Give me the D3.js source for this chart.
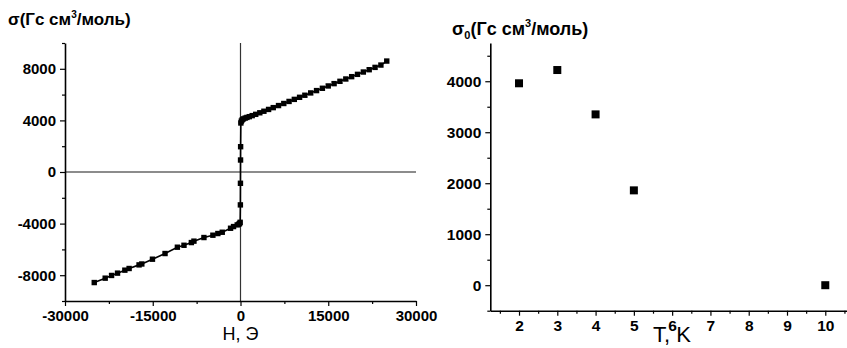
<!DOCTYPE html>
<html><head><meta charset="utf-8">
<script src="https://cdn.jsdelivr.net/npm/d3@7"></script>
<style>
body{margin:0;background:#fff;}
svg{display:block;font-family:"Liberation Sans",Arial,sans-serif;}
.tick text{font-weight:bold;fill:#000;}
</style></head><body>
<svg id="c" width="847" height="348"></svg>
<script>
// Left panel: magnetization curve
const fieldH = [-25000,-23130,-22040,-21020,-19770,-19040,-17340,-16870,-15050,-12900,-10790,-9660,-8400,-7960,-6250,-4720,-3870,-3120,-1700,-1190,-560,-300,-150,-60,-20,-8,8,20,60,150,300,500,800,1100,1500,2000,2600,3300,4000,4800,5600,6500,7400,8300,9200,10100,11000,12000,13000,14000,15000,16000,17000,18000,19000,20000,21000,22000,23000,24000,25000];
const sigma  = [-8570,-8230,-8020,-7840,-7610,-7480,-7200,-7130,-6760,-6320,-5830,-5680,-5470,-5360,-5080,-4900,-4770,-4670,-4360,-4230,-4100,-4050,-3990,-3900,-2550,-875,930,1960,3800,3950,4050,4120,4180,4230,4290,4370,4470,4590,4710,4850,4990,5150,5310,5470,5630,5790,5950,6130,6310,6490,6670,6850,7030,7210,7390,7570,7750,7930,8110,8290,8600];
const leftXTicks = [-30000,-15000,0,15000,30000];
const leftYTicks = [-8000,-4000,0,4000,8000];
// Right panel: sigma0 vs temperature
const temps  = [2,3,4,5,10];
const sigma0 = [3960,4220,3350,1860,0];
const rightXTicks = [2,3,4,5,6,7,8,9,10];
const rightYTicks = [0,1000,2000,3000,4000];

const svg = d3.select("#c");
const fmt = d => String(d);

function drawAxes(g, x, y, xMaj, xMin, yMaj, yMin, fs){
  const xa = g.append("g").attr("transform",`translate(0,${y.range()[0]})`)
    .call(d3.axisBottom(x).tickValues(xMaj).tickSize(5).tickSizeOuter(0).tickFormat(fmt).tickPadding(4));
  xa.append("g").call(d3.axisBottom(x).tickValues(xMin).tickSize(3).tickSizeOuter(0).tickFormat(""))
    .select(".domain").remove();
  const ya = g.append("g").attr("transform",`translate(${x.range()[0]},0)`)
    .call(d3.axisLeft(y).tickValues(yMaj).tickSize(5).tickSizeOuter(0).tickFormat(fmt).tickPadding(4));
  ya.append("g").call(d3.axisLeft(y).tickValues(yMin).tickSize(3).tickSizeOuter(0).tickFormat(""))
    .select(".domain").remove();
  g.selectAll(".domain").attr("stroke","#000").attr("stroke-width",1.6);
  g.selectAll(".tick line").attr("stroke","#000").attr("stroke-width",1.2);
  g.selectAll(".tick text").attr("font-size",fs);
}

// ----- Left
const xL = d3.scaleLinear().domain([-30000,30000]).range([65,416]);
const yL = d3.scaleLinear().domain([-10000,10000]).range([301,43]);
const gL = svg.append("g");
gL.append("line").attr("x1",xL(-30000)).attr("x2",xL(30000)).attr("y1",yL(0)).attr("y2",yL(0))
  .attr("stroke","#666").attr("stroke-width",1.3);
gL.append("line").attr("x1",xL(0)).attr("x2",xL(0)).attr("y1",yL(10000)).attr("y2",yL(-10000))
  .attr("stroke","#333").attr("stroke-width",1.2);
drawAxes(gL,xL,yL,leftXTicks,[-22500,-7500,7500,22500],leftYTicks,[-10000,-6000,-2000,2000,6000,10000],15);
const ptsL = fieldH.map((h,i)=>[h,sigma[i]]);
gL.append("path").datum(ptsL).attr("fill","none").attr("stroke","#000").attr("stroke-width",1.6)
  .attr("d",d3.line().x(d=>xL(d[0])).y(d=>yL(d[1])));
gL.selectAll("rect.p").data(ptsL).join("rect").attr("class","p")
  .attr("x",d=>xL(d[0])-2.7).attr("y",d=>yL(d[1])-2.7).attr("width",5.4).attr("height",5.4).attr("fill","#000");
svg.append("text").attr("x",8).attr("y",25).attr("font-size",17).attr("font-weight","bold")
  .html('σ(Гс см<tspan font-size="10" dy="-7">3</tspan><tspan dy="7">/моль)</tspan>');
svg.append("text").attr("x",xL(0)).attr("y",340).attr("text-anchor","middle").attr("font-size",18).text("Н, Э");

// ----- Right
const xR = d3.scaleLinear().domain([1.25,10.75]).range([490.3,854]);
const yR = d3.scaleLinear().domain([-500,4750]).range([310.7,43]);
const gR = svg.append("g");
drawAxes(gR,xR,yR,rightXTicks,[1.5,2.5,3.5,4.5,5.5,6.5,7.5,8.5,9.5,10.5],rightYTicks,[-500,500,1500,2500,3500,4500],15.5);
gR.selectAll("rect.p").data(temps.map((t,i)=>[t,sigma0[i]])).join("rect").attr("class","p")
  .attr("x",d=>xR(d[0])-4).attr("y",d=>yR(d[1])-4).attr("width",8).attr("height",8).attr("fill","#000");
svg.append("text").attr("x",452).attr("y",35).attr("font-size",18).attr("font-weight","bold")
  .html('σ<tspan font-size="11" dy="4">0</tspan><tspan dy="-4">(Гс см</tspan><tspan font-size="11" dy="-8">3</tspan><tspan dy="8">/моль)</tspan>');
svg.append("text").attr("x",672).attr("y",342).attr("text-anchor","middle").attr("font-size",22).text("T, K");
</script>
</body></html>
